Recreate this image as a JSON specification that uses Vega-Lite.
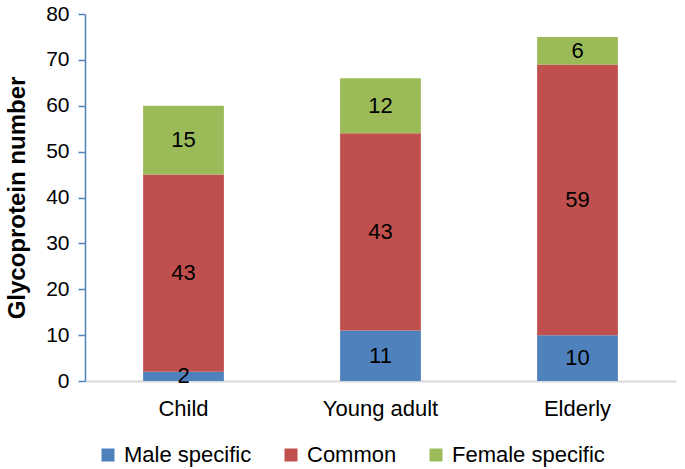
{
  "$schema": "https://vega.github.io/schema/vega-lite/v6.json",
  "autosize": {"type": "none"},
  "width": 591,
  "height": 367,
  "padding": {"left": 85, "top": 14, "right": 9, "bottom": 88},
  "background": "white",
  "config": {"font": "Liberation Sans", "view": {"stroke": null}},
  "data": {"values": [
    {"group": "Child", "type": "Male specific", "ord": 1, "value": 2},
    {"group": "Child", "type": "Common", "ord": 2, "value": 43},
    {"group": "Child", "type": "Female specific", "ord": 3, "value": 15},
    {"group": "Young adult", "type": "Male specific", "ord": 1, "value": 11},
    {"group": "Young adult", "type": "Common", "ord": 2, "value": 43},
    {"group": "Young adult", "type": "Female specific", "ord": 3, "value": 12},
    {"group": "Elderly", "type": "Male specific", "ord": 1, "value": 10},
    {"group": "Elderly", "type": "Common", "ord": 2, "value": 59},
    {"group": "Elderly", "type": "Female specific", "ord": 3, "value": 6}
  ]},
  "encoding": {
    "x": {"field": "group", "type": "nominal", "sort": ["Child", "Young adult", "Elderly"],
      "scale": {"paddingInner": 0.59, "paddingOuter": 0.295},
      "axis": {"title": null, "labelAngle": 0, "labelFontSize": 22, "labelColor": "black", "ticks": false, "domainColor": "#d9d9d9", "domainWidth": 2, "labelPadding": 17}},
    "y": {"field": "value", "type": "quantitative", "stack": "zero",
      "scale": {"domain": [0, 80], "nice": false},
      "axis": {"title": "Glycoprotein number", "titleFontSize": 24, "titleFontWeight": "bold", "titleColor": "black", "titlePadding": 16,
        "values": [0,10,20,30,40,50,60,70,80], "labelFontSize": 21, "labelColor": "black", "grid": false,
        "domainColor": "#4F81BD", "domainWidth": 1.5, "tickColor": "#4F81BD", "tickSize": 7, "tickWidth": 1.5, "labelPadding": 9}},
    "order": {"field": "ord", "type": "quantitative"}
  },
  "layer": [
    {"mark": {"type": "bar"},
     "encoding": {"color": {"field": "type", "type": "nominal",
       "scale": {"domain": ["Male specific", "Common", "Female specific"], "range": ["#4F81BD", "#C0504D", "#9BBB59"]},
       "legend": {"title": null, "orient": "none", "direction": "horizontal", "legendX": 12, "legendY": 430,
         "symbolType": "square", "symbolSize": 169, "symbolStrokeWidth": 0, "labelFontSize": 22, "labelColor": "black", "columnPadding": 28, "labelOffset": 5}}}},
    {"mark": {"type": "text", "fontSize": 22, "color": "black"},
     "encoding": {"y": {"field": "value", "type": "quantitative", "stack": "zero", "bandPosition": 0.5}, "text": {"field": "value", "type": "quantitative"}}}
  ]
}
